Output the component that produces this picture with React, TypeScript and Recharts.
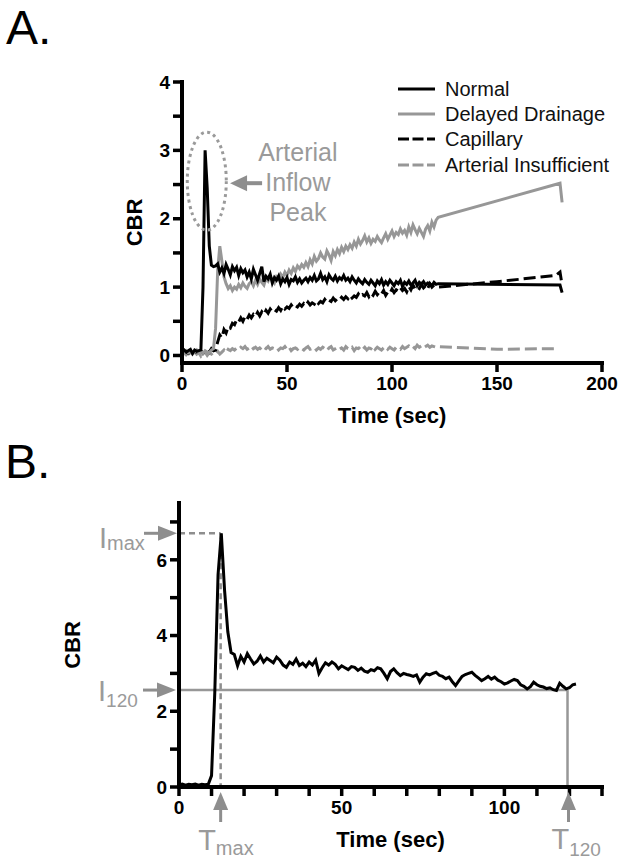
import React from 'react';
import { LineChart, Line, XAxis, YAxis, ReferenceLine, ReferenceDot, Legend, Label } from 'recharts';

const FONT = '"Liberation Sans", Arial, Helvetica, sans-serif';
const BLACK = '#000000';
const GRAY = '#979797';
const ANNO = '#9a9a9a';
const ARROW = '#8e8e8e';

// ---------- Panel A (1-s samples t = 0..122 s, then sparse tail points) ----------
const normalA = [
  0.06, 0.08, 0.05, 0.07, 0.09, 0.03, 0.08, 0.06, 0.07, 0.08,
  1.0, 3.0, 2.45, 1.6, 1.32, 1.3, 1.31,
  1.34, 1.22, 1.28, 1.2, 1.33, 1.26, 1.18, 1.3, 1.24, 1.29, 1.17, 1.27, 1.21, 1.25,
  1.15, 1.22, 1.12, 1.26, 1.18, 1.1, 1.2, 1.3, 1.08, 1.16, 1.12, 1.19, 1.06, 1.14, 1.1,
  1.16, 1.05, 1.12, 1.08, 1.14, 1.04, 1.11, 1.09, 1.15, 1.07, 1.12, 1.06, 1.1, 1.13, 1.08,
  1.14, 1.1, 1.17, 1.09, 1.12, 1.2, 1.11, 1.15, 1.08, 1.18, 1.13, 1.1, 1.16, 1.09, 1.14, 1.11, 1.17, 1.1, 1.13, 1.08,
  1.15, 1.1, 1.06, 1.12, 1.08, 1.05, 1.11, 1.07, 1.04, 1.1, 1.06, 1.02, 1.09, 1.05, 1.11, 1.03, 1.08, 1.04, 1.1, 1.06,
  1.02, 1.08, 1.05, 1.1, 1.01, 1.07, 1.04, 1.09, 1.03, 1.06, 1.1, 1.02, 1.07, 1.04, 1.08, 1.03, 1.06, 1.05, 1.02, 1.07, 1.04, 1.05,
];
const normalATailT = [180, 181];
const normalATailV = [1.03, 0.92];

const delayedA = [
  0.05, 0.03, 0.07, 0.04, 0.06, 0.02, 0.05, 0.08, 0.04, 0.06, 0.03, 0.07, 0.05, 0.04, 0.08, 0.1,
  0.4, 1.25, 1.6, 1.38, 1.15, 1.05, 0.98, 1.02, 0.95, 1.0,
  0.97, 1.04, 0.99, 1.06, 1.01, 0.98, 1.05, 1.08, 1.02, 1.1,
  1.04, 1.12, 1.07, 1.03, 1.13, 1.09, 1.16, 1.1, 1.06, 1.15,
  1.12, 1.19, 1.14, 1.22, 1.17, 1.25, 1.2, 1.28, 1.23, 1.31,
  1.27, 1.33, 1.29, 1.36, 1.3, 1.4, 1.34, 1.45, 1.38, 1.42,
  1.5, 1.44, 1.41, 1.53, 1.47, 1.39, 1.52, 1.46, 1.55, 1.49,
  1.58, 1.52, 1.6, 1.55, 1.62, 1.57, 1.66, 1.6, 1.7, 1.63,
  1.68, 1.75, 1.66, 1.72, 1.64, 1.7, 1.67, 1.74, 1.69, 1.65,
  1.72, 1.78, 1.7, 1.76, 1.82, 1.74, 1.8, 1.77, 1.85, 1.79,
  1.83, 1.76, 1.88, 1.8, 1.91, 1.84, 1.78, 1.86, 1.8, 1.74,
  1.85, 1.9, 1.82, 1.95, 1.88, 1.98, 2.02,
];
const delayedATailT = [180, 181];
const delayedATailV = [2.52, 2.24];

const capillaryA = [
  0.04, 0.07, 0.05, 0.03, 0.06, 0.08, 0.04, 0.06, 0.05, 0.07, 0.03, 0.06, 0.08, 0.05, 0.1, 0.07,
  0.08, 0.2, 0.3, 0.26, 0.38, 0.33, 0.42, 0.4, 0.47, 0.45,
  0.52, 0.49, 0.55, 0.5, 0.57, 0.53, 0.59, 0.55, 0.6, 0.57,
  0.63, 0.58, 0.64, 0.6, 0.66, 0.62, 0.68, 0.64, 0.67, 0.65,
  0.7, 0.66, 0.72, 0.68, 0.71, 0.69, 0.74, 0.7, 0.73, 0.71,
  0.75, 0.72, 0.76, 0.73, 0.78, 0.74, 0.77, 0.75, 0.8, 0.76,
  0.79, 0.77, 0.82, 0.78, 0.81, 0.79, 0.84, 0.8, 0.83, 0.81,
  0.85, 0.82, 0.86, 0.83, 0.88, 0.84, 0.87, 0.85, 0.9, 0.86,
  0.89, 0.87, 0.92, 0.86, 0.91, 0.88, 0.94, 0.89, 0.93, 0.9,
  0.95, 0.88, 0.93, 0.91, 0.97, 0.92, 0.96, 0.94, 0.99, 0.95,
  0.98, 0.93, 1.01, 0.96, 1.03, 0.97, 1.0, 0.98, 1.04, 0.99,
  1.02, 0.98, 1.05, 1.0, 1.03, 1.01, 1.0,
];
const capillaryATailT = [150, 178, 180, 181];
const capillaryATailV = [1.08, 1.17, 1.22, 1.03];

const arterialA = [
  0.02, 0.05, 0.01, 0.04, 0.0, 0.03, 0.06, 0.02, 0.04, -0.01, 0.03, 0.05, 0.0, 0.04, 0.02, 0.05,
  0.03, 0.06, 0.02, 0.05, 0.08, 0.04, 0.09, 0.07, 0.1, 0.08,
  0.11, 0.09, 0.12, 0.1, 0.13, 0.09, 0.11, 0.14, 0.1, 0.12,
  0.09, 0.11, 0.08, 0.12, 0.1, 0.13, 0.09, 0.11, 0.1, 0.12,
  0.08, 0.11, 0.1, 0.13, 0.09, 0.12, 0.07, 0.1, 0.11, 0.09,
  0.12, 0.1, 0.08, 0.11, 0.13, 0.09, 0.1, 0.12, 0.08, 0.11,
  0.09, 0.12, 0.1, 0.07, 0.11, 0.13, 0.08, 0.1, 0.12, 0.09,
  0.11, 0.08, 0.13, 0.1, 0.09, 0.12, 0.07, 0.11, 0.1, 0.13,
  0.09, 0.12, 0.08, 0.11, 0.1, 0.14, 0.09, 0.12, 0.1, 0.08,
  0.11, 0.13, 0.09, 0.12, 0.1, 0.08, 0.12, 0.11, 0.09, 0.13,
  0.1, 0.12, 0.14, 0.11, 0.13, 0.1, 0.15, 0.12, 0.14, 0.11,
  0.13, 0.15, 0.12, 0.14, 0.13, 0.12, 0.13,
];
const arterialATailT = [150, 178];
const arterialATailV = [0.09, 0.1];

const xTicksA = [0, 50, 100, 150, 200];
const yTicksA = [0, 0.5, 1, 1.5, 2, 2.5, 3, 3.5, 4];
const peakNoteLines = ['Arterial', 'Inflow', 'Peak'];

// ---------- Panel B (1-s samples t = 0..122 s) ----------
const normalB = [
  0.06, 0.08, 0.05, 0.07, 0.06, 0.08, 0.05, 0.07, 0.06, 0.07,
  0.3, 2.5, 5.6, 6.7, 5.2, 4.1, 3.55, 3.5,
  3.2, 3.45, 3.3, 3.52, 3.38, 3.25, 3.32, 3.46, 3.3, 3.4,
  3.34, 3.28, 3.43, 3.35, 3.22, 3.16, 3.3, 3.24, 3.38, 3.21,
  3.27, 3.18, 3.3, 3.22, 3.35, 3.0, 3.15, 3.28, 3.22, 3.3,
  3.24, 3.12, 3.2, 3.15, 3.1, 3.18, 3.16, 3.08, 3.14, 3.06,
  3.03, 3.1, 3.07, 3.15, 3.12, 3.0, 2.86, 3.05, 3.12, 3.02,
  2.94, 3.0, 2.97, 2.95, 2.92, 2.96, 2.77, 2.9, 2.99, 2.96,
  3.0, 3.03, 2.95, 2.92, 2.86, 2.9, 2.78, 2.68, 2.8, 2.92,
  2.97, 3.0, 3.03, 2.95, 2.88, 2.81, 2.86, 2.92, 2.85, 2.9,
  2.82, 2.78, 2.72, 2.75, 2.8, 2.84, 2.81, 2.7, 2.66, 2.59,
  2.65, 2.77, 2.7, 2.66, 2.64, 2.6, 2.62, 2.57, 2.55, 2.74,
  2.66, 2.59, 2.62, 2.7, 2.72,
];
const xTicksB = [0, 10, 20, 30, 40, 50, 60, 70, 80, 90, 100, 110, 120, 130];
const yTicksB = [0, 1, 2, 3, 4, 5, 6, 7];
const I_MAX = 6.7;
const T_MAX = 12.8;
const I_120 = 2.56;
const T_120 = 119.4;
const panelLetters = ['A.', 'B.'];

type Row = { t: number; v: number };
const toRows = (vals: number[], tailT: number[] = [], tailV: number[] = []): Row[] => [
  ...vals.map((v, i) => ({ t: i, v })),
  ...tailT.map((t, j) => ({ t, v: tailV[j] })),
];

const seriesA = [
  { name: 'Normal', color: BLACK, dash: undefined as string | undefined, legendDash: undefined as string | undefined, rows: toRows(normalA, normalATailT, normalATailV) },
  { name: 'Delayed Drainage', color: GRAY, dash: undefined, legendDash: undefined, rows: toRows(delayedA, delayedATailT, delayedATailV) },
  { name: 'Capillary', color: BLACK, dash: '12 5', legendDash: '11 3.5', rows: toRows(capillaryA, capillaryATailT, capillaryATailV) },
  { name: 'Arterial Insufficient', color: GRAY, dash: '12 5', legendDash: '11 3.5', rows: toRows(arterialA, arterialATailT, arterialATailV) },
];
const drawOrderA = [3, 2, 1, 0];
const rowsB = toRows(normalB);

const AXIS_W = 4;
const axisStyle = { stroke: BLACK, strokeWidth: AXIS_W, strokeLinecap: 'square' as const };
const tickLineStyle = { stroke: BLACK, strokeWidth: 3.5 };
const tickFont = { fontSize: 19, fontWeight: 'bold', fill: BLACK, fontFamily: FONT, stroke: 'none' };

const xTitle = (props: any) => {
  const vb = props.viewBox || {};
  return (
    <text x={vb.x + vb.width / 2} y={vb.y + 60} textAnchor="middle" fontFamily={FONT} fontWeight="bold" fontSize={22} fill={BLACK} stroke="none">
      Time (sec)
    </text>
  );
};
const yTitle = (dx: number) => (props: any) => {
  const vb = props.viewBox || {};
  const x = vb.x + dx;
  const y = vb.y + vb.height / 2;
  return (
    <text x={x} y={y} transform={`rotate(-90 ${x} ${y})`} textAnchor="middle" fontFamily={FONT} fontWeight="bold" fontSize={22} fill={BLACK} stroke="none">
      CBR
    </text>
  );
};

const legendContent = (props: any) => {
  const payload: any[] = props.payload || [];
  const ordered = seriesA.filter((s) => payload.some((p) => p.value === s.name));
  return (
    <div style={{ fontFamily: FONT, fontSize: 20, color: '#111' }}>
      {ordered.map((s) => (
        <div key={s.name} style={{ display: 'flex', alignItems: 'center', height: 25.3, whiteSpace: 'nowrap' }}>
          <svg width={37} height={10} style={{ marginLeft: 2, marginRight: 10, display: 'block' }}>
            <line x1={0} y1={5} x2={37} y2={5} stroke={s.color} strokeWidth={3} strokeDasharray={s.legendDash} />
          </svg>
          <span style={{ lineHeight: '20px' }}>{s.name}</span>
        </div>
      ))}
    </div>
  );
};

const leftArrow = (cx: number, cy: number) => (
  <g>
    <line x1={cx + 14} y1={cy} x2={cx + 32} y2={cy} stroke={ARROW} strokeWidth={4} />
    <polygon points={`${cx},${cy} ${cx + 17},${cy - 8} ${cx + 17},${cy + 8}`} fill={ARROW} />
  </g>
);
const rightArrowTo = (tipX: number, cy: number) => (
  <g>
    <line x1={tipX - 33} y1={cy} x2={tipX - 17} y2={cy} stroke={ARROW} strokeWidth={3} />
    <polygon points={`${tipX},${cy} ${tipX - 19},${cy - 7.5} ${tipX - 19},${cy + 7.5}`} fill={ARROW} />
  </g>
);
const upArrowFrom = (cx: number, tipY: number) => (
  <g>
    <line x1={cx} y1={tipY + 15} x2={cx} y2={tipY + 30} stroke={ARROW} strokeWidth={3} />
    <polygon points={`${cx},${tipY} ${cx - 7.5},${tipY + 18} ${cx + 7.5},${tipY + 18}`} fill={ARROW} />
  </g>
);

function PanelA() {
  return (
    <LineChart width={624} height={440} margin={{ top: 82, right: 22, bottom: 17, left: 122 }} style={{ fontFamily: FONT }}>
      <XAxis
        type="number"
        dataKey="t"
        domain={[0, 200]}
        ticks={xTicksA}
        interval={0}
        height={60}
        tickSize={9}
        tickMargin={5}
        stroke={BLACK}
        strokeWidth={AXIS_W}
        axisLine={axisStyle}
        tickLine={tickLineStyle}
        tick={tickFont}
        allowDataOverflow
      >
        <Label content={xTitle} />
      </XAxis>
      <YAxis
        type="number"
        domain={[-0.11, 4]}
        ticks={yTicksA}
        interval={0}
        width={60}
        tickSize={9}
        tickMargin={3}
        stroke={BLACK}
        strokeWidth={AXIS_W}
        tickFormatter={(v: number) => (Number.isInteger(v) ? String(v) : '')}
        axisLine={axisStyle}
        tickLine={tickLineStyle}
        tick={tickFont}
        allowDataOverflow
      >
        <Label content={yTitle(20)} />
      </YAxis>
      {drawOrderA.map((i) => {
        const s = seriesA[i];
        return (
          <Line
            key={s.name}
            data={s.rows}
            dataKey="v"
            name={s.name}
            type="linear"
            stroke={s.color}
            strokeWidth={3}
            strokeDasharray={s.dash}
            dot={false}
            activeDot={false}
            isAnimationActive={false}
          />
        );
      })}
      <ReferenceDot
        x={11.8}
        y={2.55}
        r={1}
        shape={(p: any) => (
          <ellipse cx={p.cx} cy={p.cy} rx={19.5} ry={49} fill="none" stroke={ANNO} strokeWidth={3} strokeDasharray="3 3.5" />
        )}
      />
      <ReferenceDot x={22.9} y={2.52} r={1} shape={(p: any) => leftArrow(p.cx, p.cy)} />
      <ReferenceDot
        x={55.2}
        y={2.405}
        r={1}
        shape={(p: any) => (
          <text textAnchor="middle" fontFamily={FONT} fontSize={25} fill={ANNO}>
            {peakNoteLines.map((line, k) => (
              <tspan key={line} x={p.cx} y={p.cy + (k - 1) * 30}>
                {line}
              </tspan>
            ))}
          </text>
        )}
      />
      <Legend layout="vertical" align="center" verticalAlign="middle" wrapperStyle={{ left: 396, top: 76, width: 228 }} content={legendContent} />
    </LineChart>
  );
}

function PanelB() {
  return (
    <LineChart width={624} height={422} margin={{ top: 63, right: 22, bottom: 15, left: 119 }} style={{ fontFamily: FONT }}>
      <XAxis
        type="number"
        dataKey="t"
        domain={[0, 130]}
        ticks={xTicksB}
        interval={0}
        height={60}
        tickSize={9}
        tickMargin={5}
        stroke={BLACK}
        strokeWidth={AXIS_W}
        tickFormatter={(v: number) => (v % 50 === 0 ? String(v) : '')}
        axisLine={axisStyle}
        tickLine={tickLineStyle}
        tick={tickFont}
        allowDataOverflow
      >
        <Label content={xTitle} />
      </XAxis>
      <YAxis
        type="number"
        domain={[0, 7.5]}
        ticks={yTicksB}
        interval={0}
        width={60}
        tickSize={9}
        tickMargin={3}
        stroke={BLACK}
        strokeWidth={AXIS_W}
        tickFormatter={(v: number) => (v % 2 === 0 ? String(v) : '')}
        axisLine={axisStyle}
        tickLine={tickLineStyle}
        tick={tickFont}
        allowDataOverflow
      >
        <Label content={yTitle(-39)} />
      </YAxis>
      <ReferenceLine segment={[{ x: 0, y: I_MAX }, { x: T_MAX, y: I_MAX }]} stroke={ARROW} strokeWidth={2.5} strokeDasharray="6 4" />
      <ReferenceLine segment={[{ x: T_MAX, y: I_MAX }, { x: T_MAX, y: 0 }]} stroke={ARROW} strokeWidth={2.5} strokeDasharray="6 4" />
      <ReferenceLine segment={[{ x: 0, y: I_120 }, { x: T_120, y: I_120 }]} stroke={GRAY} strokeWidth={2.5} />
      <ReferenceLine segment={[{ x: T_120, y: I_120 }, { x: T_120, y: 0 }]} stroke={GRAY} strokeWidth={2.5} />
      <Line
        data={rowsB}
        dataKey="v"
        name="Normal"
        type="linear"
        stroke={BLACK}
        strokeWidth={3}
        dot={false}
        activeDot={false}
        isAnimationActive={false}
      />
      <ReferenceDot
        x={0}
        y={I_MAX}
        r={1}
        shape={(p: any) => (
          <g>
            {rightArrowTo(p.cx - 2, p.cy)}
            <text x={p.cx - 80} y={p.cy + 15} fontFamily={FONT} fontSize={29} fill={ANNO}>
              I<tspan fontSize={20} dy={2}>max</tspan>
            </text>
          </g>
        )}
      />
      <ReferenceDot
        x={0}
        y={I_120}
        r={1}
        shape={(p: any) => (
          <g>
            {rightArrowTo(p.cx - 3, p.cy)}
            <text x={p.cx - 81} y={p.cy + 11} fontFamily={FONT} fontSize={29} fill={ANNO}>
              I<tspan fontSize={19} dy={6}>120</tspan>
            </text>
          </g>
        )}
      />
      <ReferenceDot
        x={T_MAX}
        y={0}
        r={1}
        shape={(p: any) => (
          <g>
            {upArrowFrom(p.cx, p.cy + 5)}
            <text x={p.cx - 22.5} y={p.cy + 63} fontFamily={FONT} fontSize={29} fill={ANNO}>
              T<tspan fontSize={20} dy={5}>max</tspan>
            </text>
          </g>
        )}
      />
      <ReferenceDot
        x={T_120}
        y={0}
        r={1}
        shape={(p: any) => (
          <g>
            {upArrowFrom(p.cx + 1, p.cy + 5)}
            <text x={p.cx - 16} y={p.cy + 62} fontFamily={FONT} fontSize={29} fill={ANNO}>
              T<tspan fontSize={19} dy={7}>120</tspan>
            </text>
          </g>
        )}
      />
    </LineChart>
  );
}

export default function App() {
  return (
    <div style={{ position: 'absolute', left: 0, top: 0, width: 624, height: 862, background: '#fff', overflow: 'hidden' }}>
      <svg width={624} height={862} style={{ position: 'absolute', left: 0, top: 0 }}>
        <text x={6} y={43.5} fontFamily={FONT} fontSize={48} fill={BLACK}>{panelLetters[0]}</text>
        <text x={5} y={478} fontFamily={FONT} fontSize={48} fill={BLACK}>{panelLetters[1]}</text>
      </svg>
      <div style={{ position: 'absolute', left: 0, top: 0 }}>
        <PanelA />
      </div>
      <div style={{ position: 'absolute', left: 0, top: 440 }}>
        <PanelB />
      </div>
    </div>
  );
}
